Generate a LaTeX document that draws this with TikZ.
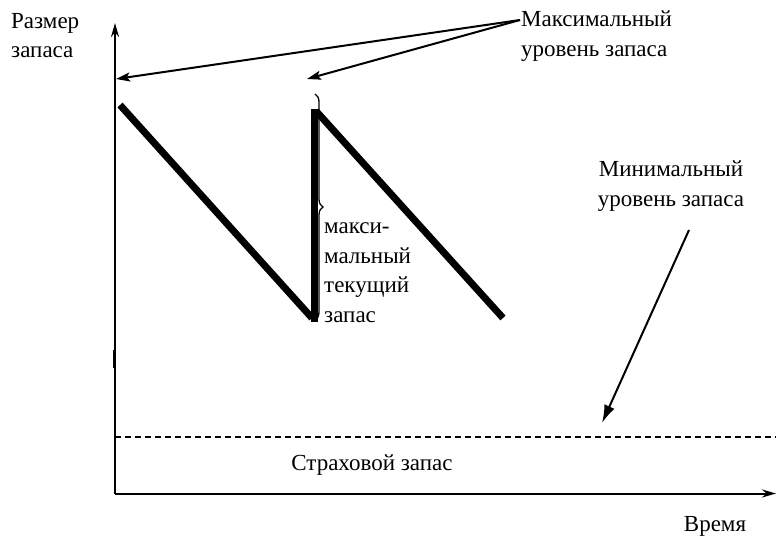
\documentclass[tikz,border=0pt]{standalone}
\usepackage{fontspec}
\setmainfont{Liberation Serif}
\usetikzlibrary{arrows.meta,decorations.pathreplacing}
\begin{document}
\begin{tikzpicture}[x=1pt,y=-1pt,
  txt/.style={inner sep=0pt,font=\fontsize{23}{29.5}\selectfont,align=left},
  axis/.style={line width=2pt,-{Stealth[length=14pt,width=8pt]}},
  pointer/.style={line width=2pt,-{Stealth[length=14pt,width=9pt,inset=3pt]}},
  pointerfill/.style={line width=2pt,-{Latex[length=18pt,width=11pt]}},
  stock/.style={line width=7pt},
  level/.style={line width=1.5pt,dash pattern=on 6pt off 4pt}]
\useasboundingbox (0,0) rectangle (776,540);

% axes
\coordinate (O) at (115,493.5);
\coordinate (ytop) at (115,23);
\coordinate (xend) at (776,493.5);
\draw[axis] (O) -- (ytop);
\draw[axis] (O) -- (xend);
\draw[line width=3pt] (114,350) -- (114,368);

% safety stock level
\coordinate (s1) at (115,437);
\coordinate (s2) at (776,437);
\draw[level] (s1) -- (s2);

% saw-tooth stock curve
\coordinate (a1) at (120,105);
\coordinate (a2) at (312,318);
\coordinate (b1) at (314,322);
\coordinate (b2) at (314,109);
\coordinate (c1) at (316,111);
\coordinate (c2) at (503,318);
\draw[stock] (a1) -- (a2);
\draw[stock] (b1) -- (b2);
\draw[stock] (c1) -- (c2);

% brace for the maximum current stock
\draw[line width=1.3pt,decorate,decoration={brace,amplitude=8pt,aspect=0.5}]
  (315,94) -- (315,320);

% labels (base anchor sits on the last line)
\node[txt,anchor=base west] (ylab) at (11,58) {Размер\\запаса};
\node[txt,anchor=base west] (maxlab) at (521,56.5) {Максимальный\\уровень запаса};
\node[txt,anchor=base,align=center] (minlab) at (671,206.5) {Минимальный\\уровень запаса};
\node[txt,anchor=base west] (curlab) at (324,322) {макси-\\мальный\\текущий\\запас};
\node[txt,anchor=base] (safelab) at (372,470) {Страховой запас};
\node[txt,anchor=base] (xlab) at (715,531.5) {Время};

% pointers
\coordinate (m0) at (520,20);
\coordinate (m1) at (116,79);
\coordinate (m2) at (307,79);
\draw[pointer] (m0) -- (m1);
\draw[pointer] (m0) -- (m2);
\coordinate (n0) at (689,230);
\coordinate (n1) at (602,423);
\draw[pointerfill] (n0) -- (n1);
\end{tikzpicture}
\end{document}
